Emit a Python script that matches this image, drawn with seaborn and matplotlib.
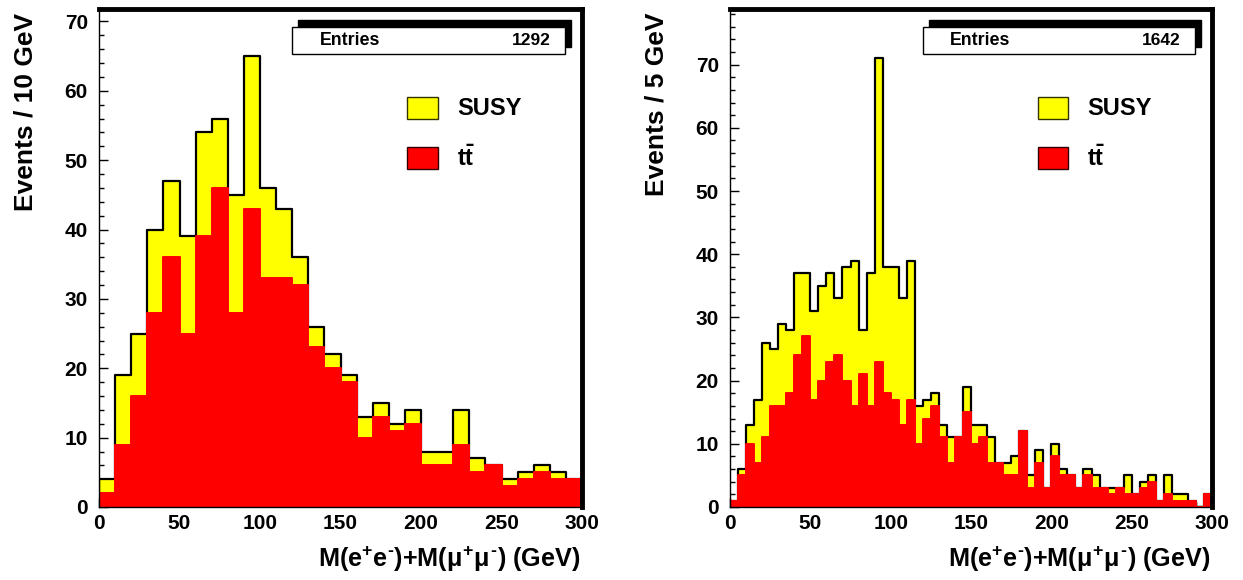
import numpy as np
import pandas as pd
import matplotlib
matplotlib.use("Agg")
import matplotlib.pyplot as plt
import seaborn as sns
from matplotlib.patches import Rectangle
from matplotlib.ticker import MultipleLocator

# Dilepton invariant-mass sum, 0-300 GeV.
# Left panel: 10 GeV bins; right panel: 5 GeV bins.
ttbar_10 = [2, 9, 16, 28, 36, 25, 39, 46, 28, 43, 33, 33, 32, 23, 20,
            18, 10, 13, 11, 12, 6, 6, 9, 5, 6, 3, 4, 5, 4, 4]
susy_10 = [2, 10, 9, 12, 11, 14, 15, 10, 17, 22, 13, 10, 4, 3, 2,
           1, 3, 2, 1, 2, 2, 2, 5, 2, 0, 1, 1, 1, 1, 0]

ttbar_5 = [1, 5, 10, 7, 11, 16, 16, 18, 24, 27,
           17, 20, 23, 24, 20, 16, 21, 16, 23, 18,
           17, 13, 17, 10, 14, 16, 11, 7, 11, 15,
           10, 11, 7, 7, 5, 5, 12, 3, 7, 3,
           8, 5, 5, 3, 5, 3, 3, 2, 3, 2,
           2, 3, 4, 1, 2, 1, 1, 1, 0, 2]
susy_5 = [0, 1, 3, 10, 15, 9, 13, 10, 13, 10,
          14, 15, 14, 9, 18, 23, 7, 21, 48, 20,
          21, 20, 22, 6, 3, 2, 2, 4, 0, 4,
          3, 2, 4, 0, 2, 3, 0, 2, 2, 0,
          2, 1, 0, 0, 1, 2, 0, 1, 0, 3,
          0, 1, 1, 0, 3, 1, 1, 0, 0, 0]

bin_widths = [10, 5]
entries = [1292, 1642]
y_titles = ["Events / 10 GeV", "Events / 5 GeV"]
y_max = [71.8, 78.8]
x_title = r"M(e$^{+}$e$^{\text{-}}$)+M($\mu^{+}\mu^{\text{-}}$) (GeV)"
legend_labels = ["SUSY", r"t$\bar{\mathrm{t}}$"]

YELLOW = "#ffff00"
RED = "#ff0000"

sns.set_style("ticks")
plt.rcParams["font.family"] = ["Liberation Sans", "DejaVu Sans"]
plt.rcParams["font.weight"] = "bold"
plt.rcParams["mathtext.fontset"] = "custom"
plt.rcParams["mathtext.rm"] = "Liberation Sans:bold"
plt.rcParams["mathtext.it"] = "Liberation Sans:bold"
plt.rcParams["mathtext.bf"] = "Liberation Sans:bold"
plt.rcParams["mathtext.sf"] = "Liberation Sans:bold"
for key in ("text.color", "axes.labelcolor", "xtick.color", "ytick.color",
            "xtick.labelcolor", "ytick.labelcolor"):
    plt.rcParams[key] = "black"

W, H = 1243, 580
fig = plt.figure(figsize=(W / 100, H / 100), dpi=100)
fig.patch.set_facecolor("white")


def frame_rect(x0, x1, ytop=9, ybot=507):
    return [x0 / W, (H - ybot) / H, (x1 - x0) / W, (ybot - ytop) / H]


axes = [fig.add_axes(frame_rect(99, 582)), fig.add_axes(frame_rect(730, 1212))]
series = [(ttbar_10, susy_10), (ttbar_5, susy_5)]

for i, ax in enumerate(axes):
    w = bin_widths[i]
    ttbar, susy = np.array(series[i][0]), np.array(series[i][1])
    edges = list(np.arange(0, 300 + w, w))
    centers = np.array(edges[:-1]) + w / 2
    df = pd.DataFrame({"mass": centers, "ttbar": ttbar,
                       "stacked": ttbar + susy})

    # SUSY stacked on top of ttbar: draw the summed histogram first ...
    sns.histplot(data=df, x="mass", weights="stacked", bins=edges,
                 element="step", fill=True, color=YELLOW, edgecolor="black",
                 linewidth=1.6, alpha=1, ax=ax)
    # ... then the ttbar component in front of it
    sns.histplot(data=df, x="mass", weights="ttbar", bins=edges,
                 element="step", fill=True, color=RED, edgecolor=RED,
                 linewidth=1.4, alpha=1, ax=ax)

    ax.set_xlim(0, 300)
    ax.set_ylim(0, y_max[i])
    ax.xaxis.set_major_locator(MultipleLocator(50))
    ax.xaxis.set_minor_locator(MultipleLocator(10))
    ax.yaxis.set_major_locator(MultipleLocator(10))
    ax.yaxis.set_minor_locator(MultipleLocator(2))
    ax.tick_params(which="both", direction="in", top=False, right=False,
                   color="black", width=1)
    ax.tick_params(which="major", length=6.5, labelsize=15,
                   labelcolor="black")
    ax.tick_params(which="minor", length=3.3)
    ax.tick_params(axis="y", which="major", pad=8)
    ax.tick_params(axis="x", which="major", pad=5)

    for side in ("left", "bottom"):
        ax.spines[side].set_linewidth(1.0)
        ax.spines[side].set_color("black")
    for side in ("top", "right"):
        ax.spines[side].set_linewidth(3.5)
        ax.spines[side].set_color("black")

    ax.set_ylabel(y_titles[i], fontsize=19, fontweight="bold", loc="top",
                  color="black")
    ax.yaxis.set_label_coords(-0.128, 0.992)
    ax.set_xlabel(x_title, fontsize=18.2, fontweight="bold", loc="right",
                  color="black")
    ax.xaxis.set_label_coords(0.996, -0.075)

    # statistics box with drop shadow
    bx0, bx1, by0, by1 = 0.400, 0.965, 0.910, 0.964
    ax.add_patch(Rectangle((bx0 + 0.013, by0 + 0.013), bx1 - bx0, by1 - by0,
                           transform=ax.transAxes, facecolor="black",
                           edgecolor="black", zorder=5, clip_on=False))
    ax.add_patch(Rectangle((bx0, by0), bx1 - bx0, by1 - by0,
                           transform=ax.transAxes, facecolor="white",
                           edgecolor="black", linewidth=1.0, zorder=6,
                           clip_on=False))
    ax.text(0.457, 0.937, "Entries", transform=ax.transAxes, fontsize=12.8,
            fontweight="bold", ha="left", va="center", zorder=7)
    ax.text(0.935, 0.937, str(entries[i]), transform=ax.transAxes,
            fontsize=12.5, fontweight="bold", ha="right", va="center",
            zorder=7)

    # legend
    for j, (fc, lab) in enumerate(zip([YELLOW, RED], legend_labels)):
        yb = 0.779 - j * 0.100
        ax.add_patch(Rectangle((0.638, yb), 0.063, 0.044,
                               transform=ax.transAxes, facecolor=fc,
                               edgecolor="#333300" if j == 0 else "#330000",
                               linewidth=1.0, zorder=6))
        ax.text(0.741, yb + 0.022, lab, transform=ax.transAxes, fontsize=17,
                fontweight="bold", ha="left", va="center", zorder=7)

fig.savefig("out.png", dpi=100, facecolor="white")
